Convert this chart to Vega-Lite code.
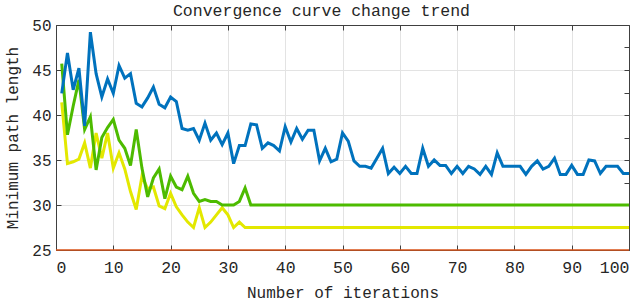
{
  "$schema": "https://vega.github.io/schema/vega-lite/v6.json",
  "width": 573,
  "height": 225,
  "autosize": {"type": "none"},
  "padding": {"left": 56, "top": 25, "right": 11, "bottom": 54},
  "background": "white",
  "config": {"view": {"stroke": null}},
  "title": {
    "text": "Convergence curve change trend",
    "font": "Liberation Mono",
    "fontSize": 16.5,
    "fontWeight": "normal",
    "color": "#262626",
    "dx": -21,
    "dy": 8,
    "offset": 6
  },
  "datasets": {
    "main": [
      {"i":1,"b":42.4,"g":45.7,"yl":41.4},
      {"i":2,"b":46.9,"g":37.8,"yl":34.6},
      {"i":3,"b":42.8,"g":41.0,"yl":34.8},
      {"i":4,"b":45.2,"g":43.9,"yl":35.1},
      {"i":5,"b":38.8,"g":38.4,"yl":36.9},
      {"i":6,"b":49.2,"g":39.8,"yl":34.1},
      {"i":7,"b":44.6,"g":33.9,"yl":38.0},
      {"i":8,"b":42.0,"g":37.5,"yl":35.2},
      {"i":9,"b":44.0,"g":38.6,"yl":38.0},
      {"i":10,"b":42.4,"g":39.5,"yl":34.1},
      {"i":11,"b":45.5,"g":37.2,"yl":35.8},
      {"i":12,"b":44.1,"g":36.3,"yl":34.0},
      {"i":13,"b":44.6,"g":34.4,"yl":31.5},
      {"i":14,"b":41.3,"g":38.4,"yl":29.5},
      {"i":15,"b":40.9,"g":34.1,"yl":33.2},
      {"i":16,"b":41.9,"g":30.9,"yl":31.8},
      {"i":17,"b":43.1,"g":33.0,"yl":32.0},
      {"i":18,"b":41.2,"g":34.0,"yl":29.9},
      {"i":19,"b":40.8,"g":30.7,"yl":29.6},
      {"i":20,"b":42.0,"g":33.2,"yl":31.3},
      {"i":21,"b":41.5,"g":32.0,"yl":29.8},
      {"i":22,"b":38.5,"g":31.7,"yl":28.9},
      {"i":23,"b":38.3,"g":33.2,"yl":28.1},
      {"i":24,"b":38.5,"g":31.3,"yl":27.5},
      {"i":25,"b":37.2,"g":30.4,"yl":29.7},
      {"i":26,"b":39.1,"g":30.6,"yl":27.5},
      {"i":27,"b":37.2,"g":30.4,"yl":28.1},
      {"i":28,"b":38.0,"g":30.4,"yl":28.9},
      {"i":29,"b":36.7,"g":30.0,"yl":29.7},
      {"i":30,"b":38.0,"g":30.0,"yl":28.9},
      {"i":31,"b":34.6,"g":30.0,"yl":27.5},
      {"i":32,"b":36.6,"g":30.4,"yl":28.1},
      {"i":33,"b":36.6,"g":31.9,"yl":27.5},
      {"i":34,"b":39.0,"g":30.0,"yl":27.5},
      {"i":35,"b":38.9,"g":30.0,"yl":27.5},
      {"i":36,"b":36.3,"g":30.0,"yl":27.5},
      {"i":37,"b":36.9,"g":30.0,"yl":27.5},
      {"i":38,"b":36.6,"g":30.0,"yl":27.5},
      {"i":39,"b":36.0,"g":30.0,"yl":27.5},
      {"i":40,"b":38.7,"g":30.0,"yl":27.5},
      {"i":41,"b":37.0,"g":30.0,"yl":27.5},
      {"i":42,"b":38.5,"g":30.0,"yl":27.5},
      {"i":43,"b":37.3,"g":30.0,"yl":27.5},
      {"i":44,"b":38.3,"g":30.0,"yl":27.5},
      {"i":45,"b":38.3,"g":30.0,"yl":27.5},
      {"i":46,"b":34.9,"g":30.0,"yl":27.5},
      {"i":47,"b":36.3,"g":30.0,"yl":27.5},
      {"i":48,"b":34.8,"g":30.0,"yl":27.5},
      {"i":49,"b":35.1,"g":30.0,"yl":27.5},
      {"i":50,"b":38.0,"g":30.0,"yl":27.5},
      {"i":51,"b":37.1,"g":30.0,"yl":27.5},
      {"i":52,"b":34.9,"g":30.0,"yl":27.5},
      {"i":53,"b":34.3,"g":30.0,"yl":27.5},
      {"i":54,"b":34.3,"g":30.0,"yl":27.5},
      {"i":55,"b":34.1,"g":30.0,"yl":27.5},
      {"i":56,"b":35.2,"g":30.0,"yl":27.5},
      {"i":57,"b":36.3,"g":30.0,"yl":27.5},
      {"i":58,"b":33.5,"g":30.0,"yl":27.5},
      {"i":59,"b":34.2,"g":30.0,"yl":27.5},
      {"i":60,"b":33.5,"g":30.0,"yl":27.5},
      {"i":61,"b":34.3,"g":30.0,"yl":27.5},
      {"i":62,"b":33.5,"g":30.0,"yl":27.5},
      {"i":63,"b":33.5,"g":30.0,"yl":27.5},
      {"i":64,"b":36.3,"g":30.0,"yl":27.5},
      {"i":65,"b":34.3,"g":30.0,"yl":27.5},
      {"i":66,"b":35.0,"g":30.0,"yl":27.5},
      {"i":67,"b":34.4,"g":30.0,"yl":27.5},
      {"i":68,"b":34.4,"g":30.0,"yl":27.5},
      {"i":69,"b":33.5,"g":30.0,"yl":27.5},
      {"i":70,"b":34.3,"g":30.0,"yl":27.5},
      {"i":71,"b":33.5,"g":30.0,"yl":27.5},
      {"i":72,"b":34.3,"g":30.0,"yl":27.5},
      {"i":73,"b":34.0,"g":30.0,"yl":27.5},
      {"i":74,"b":33.4,"g":30.0,"yl":27.5},
      {"i":75,"b":34.3,"g":30.0,"yl":27.5},
      {"i":76,"b":33.4,"g":30.0,"yl":27.5},
      {"i":77,"b":35.8,"g":30.0,"yl":27.5},
      {"i":78,"b":34.3,"g":30.0,"yl":27.5},
      {"i":79,"b":34.3,"g":30.0,"yl":27.5},
      {"i":80,"b":34.3,"g":30.0,"yl":27.5},
      {"i":81,"b":34.3,"g":30.0,"yl":27.5},
      {"i":82,"b":33.4,"g":30.0,"yl":27.5},
      {"i":83,"b":34.3,"g":30.0,"yl":27.5},
      {"i":84,"b":34.9,"g":30.0,"yl":27.5},
      {"i":85,"b":34.0,"g":30.0,"yl":27.5},
      {"i":86,"b":34.3,"g":30.0,"yl":27.5},
      {"i":87,"b":35.2,"g":30.0,"yl":27.5},
      {"i":88,"b":33.4,"g":30.0,"yl":27.5},
      {"i":89,"b":33.4,"g":30.0,"yl":27.5},
      {"i":90,"b":34.4,"g":30.0,"yl":27.5},
      {"i":91,"b":33.4,"g":30.0,"yl":27.5},
      {"i":92,"b":33.4,"g":30.0,"yl":27.5},
      {"i":93,"b":35.0,"g":30.0,"yl":27.5},
      {"i":94,"b":34.9,"g":30.0,"yl":27.5},
      {"i":95,"b":33.5,"g":30.0,"yl":27.5},
      {"i":96,"b":34.3,"g":30.0,"yl":27.5},
      {"i":97,"b":34.3,"g":30.0,"yl":27.5},
      {"i":98,"b":34.3,"g":30.0,"yl":27.5},
      {"i":99,"b":33.5,"g":30.0,"yl":27.5},
      {"i":100,"b":33.5,"g":30.0,"yl":27.5}
    ],
    "base": [
      {"i":0,"r":25},
      {"i":100,"r":25}
    ]
  },
  "layer": [
    {
      "data": {"name": "base"},
      "mark": {"type": "line", "color": "#D95319", "strokeWidth": 1.5},
      "encoding": {
        "x": {"field": "i", "type": "quantitative", "scale": {"domain": [0, 100], "nice": false},
          "axis": {"orient": "top", "title": null, "labels": false, "grid": false, "values": [0,10,20,30,40,50,60,70,80,90,100],
            "tickSize": -5, "tickColor": "#404040", "domainColor": "#404040"}},
        "y": {"field": "r", "type": "quantitative", "scale": {"domain": [25, 50], "nice": false, "zero": false},
          "axis": {"orient": "right", "title": null, "labels": false, "grid": false, "values": [25,27.5,30,32.5,35,37.5,40,42.5,45,47.5,50],
            "tickSize": -5, "tickColor": "#404040", "domainColor": "#404040"}}
      }
    },
    {
      "data": {"name": "main"},
      "layer": [
        {
          "mark": {"type": "line", "color": "#E3E800", "strokeWidth": 3, "clip": true, "strokeJoin": "miter"},
          "encoding": {
            "x": {"field": "i", "type": "quantitative",
              "axis": {"title": "Number of iterations", "values": [0,10,20,30,40,50,60,70,80,90,100], "orient": "bottom",
                "grid": true, "gridColor": "#E3E3E3", "tickSize": -5, "tickColor": "#404040", "domainColor": "#404040",
                "labelFont": "Liberation Mono", "labelFontSize": 16.5, "labelColor": "#262626", "labelPadding": 14,
                "titleFont": "Liberation Mono", "titleFontSize": 16, "titleFontWeight": "normal", "titleColor": "#262626", "titlePadding": 9}},
            "y": {"field": "yl", "type": "quantitative",
              "axis": {"title": "Minimum path length", "values": [25,27.5,30,32.5,35,37.5,40,42.5,45,47.5,50], "orient": "left",
                "labelExpr": "datum.value % 5 == 0 ? datum.label : ''",
                "grid": true, "gridColor": "#E3E3E3", "tickSize": -5, "tickColor": "#404040", "domainColor": "#404040",
                "labelFont": "Liberation Mono", "labelFontSize": 16, "labelColor": "#262626", "labelPadding": 10,
                "titleFont": "Liberation Mono", "titleFontSize": 16, "titleFontWeight": "normal", "titleColor": "#262626", "titlePadding": 11}}
          }
        },
        {
          "mark": {"type": "line", "color": "#4DBB00", "strokeWidth": 3, "clip": true, "strokeJoin": "miter"},
          "encoding": {
            "x": {"field": "i", "type": "quantitative"},
            "y": {"field": "g", "type": "quantitative"}
          }
        },
        {
          "mark": {"type": "line", "color": "#0072BD", "strokeWidth": 3, "clip": true, "strokeJoin": "miter"},
          "encoding": {
            "x": {"field": "i", "type": "quantitative"},
            "y": {"field": "b", "type": "quantitative"}
          }
        }
      ]
    }
  ],
  "resolve": {"axis": {"x": "independent", "y": "independent"}}
}
